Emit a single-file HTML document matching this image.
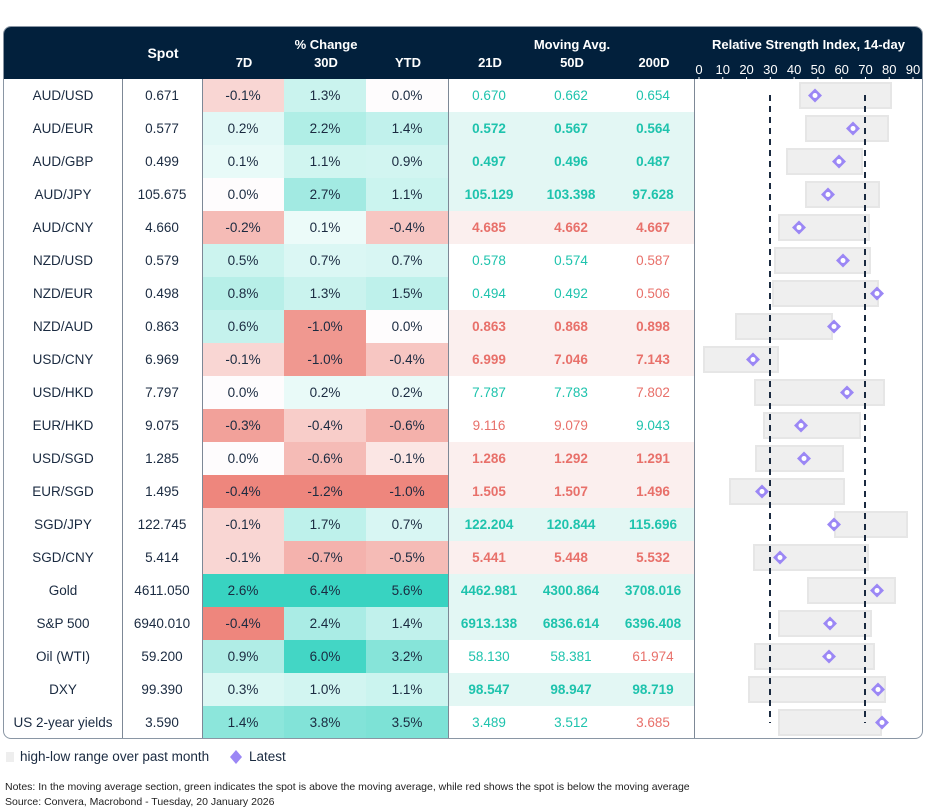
<!DOCTYPE html>
<html><head><meta charset="utf-8"><style>
body{margin:0;width:926px;height:811px;background:#fff;font-family:"Liberation Sans",sans-serif;position:relative;overflow:hidden;color:#1a2a40}
#panel{position:absolute;left:3px;top:26px;width:918px;height:711px;border:1px solid #8a96a4;border-radius:8px;overflow:hidden}
#hdr{position:absolute;left:0;top:0;width:918px;height:52px;background:#02203c}
.h{position:absolute;color:#fff;font-weight:bold;font-size:13px;text-align:center}
.c{position:absolute;height:33px;line-height:33px;text-align:center;font-size:13.5px}
.vl{position:absolute;top:52px;height:660px;width:1px;background:#7d8896}
.t{position:absolute;font-size:13px;color:#fff;text-align:center;width:20px}
</style></head><body>
<div id="panel">
<div id="hdr"></div>
<div class="h" style="left:119px;width:80px;top:18px;font-size:14px">Spot</div>
<div class="h" style="left:199px;width:246px;top:10px">% Change</div>
<div class="h" style="left:199px;width:82px;top:28px">7D</div>
<div class="h" style="left:281px;width:82px;top:28px">30D</div>
<div class="h" style="left:363px;width:82px;top:28px">YTD</div>
<div class="h" style="left:445px;width:246px;top:10px">Moving Avg.</div>
<div class="h" style="left:445px;width:82px;top:28px">21D</div>
<div class="h" style="left:527px;width:82px;top:28px">50D</div>
<div class="h" style="left:609px;width:82px;top:28px">200D</div>
<div class="h" style="left:691px;width:227px;top:10px">Relative Strength Index, 14-day</div>
<div id="rows"></div>
<div class="vl" style="left:118px"></div>
<div class="vl" style="left:198px"></div>
<div class="vl" style="left:444px"></div>
<div class="vl" style="left:690px"></div>
<svg id="rsi" style="position:absolute;left:0;top:0" width="918" height="711"></svg>
</div>
<div style="position:absolute;left:6px;top:752px;width:8px;height:10px;background:#eee"></div>
<div style="position:absolute;left:20px;top:749px;font-size:13.5px">high-low range over past month</div>
<svg style="position:absolute;left:229px;top:749px" width="14" height="16"><polygon points="7,1 13,8 7,15 1,8" fill="#9b87f5"/></svg>
<div style="position:absolute;left:249px;top:749px;font-size:13.5px">Latest</div>
<div style="position:absolute;left:5px;top:781px;font-size:10.5px;color:#222">Notes: In the moving average section, green indicates the spot is above the moving average, while red shows the spot is below the moving average</div>
<div style="position:absolute;left:5px;top:796px;font-size:10.5px;color:#222">Source: Convera, Macrobond - Tuesday, 20 January 2026</div>
<script>
var D=[
["AUD/USD","0.671",-0.1,1.3,0.0,"0.670","0.662","0.654",0,800,891,815],
["AUD/EUR","0.577",0.2,2.2,1.4,"0.572","0.567","0.564",1,806,888,853],
["AUD/GBP","0.499",0.1,1.1,0.9,"0.497","0.496","0.487",1,787,862,839],
["AUD/JPY","105.675",0.0,2.7,1.1,"105.129","103.398","97.628",1,806,879,828],
["AUD/CNY","4.660",-0.2,0.1,-0.4,"4.685","4.662","4.667",1,779,869,799],
["NZD/USD","0.579",0.5,0.7,0.7,"0.578","0.574","0.587",0,775,870,843],
["NZD/EUR","0.498",0.8,1.3,1.5,"0.494","0.492","0.506",0,773,878,877],
["NZD/AUD","0.863",0.6,-1.0,0.0,"0.863","0.868","0.898",1,736,832,834],
["USD/CNY","6.969",-0.1,-1.0,-0.4,"6.999","7.046","7.143",1,704,778,753],
["USD/HKD","7.797",0.0,0.2,0.2,"7.787","7.783","7.802",0,755,884,847],
["EUR/HKD","9.075",-0.3,-0.4,-0.6,"9.116","9.079","9.043",0,764,860,801],
["USD/SGD","1.285",0.0,-0.6,-0.1,"1.286","1.292","1.291",1,756,843,804],
["EUR/SGD","1.495",-0.4,-1.2,-1.0,"1.505","1.507","1.496",1,730,844,762],
["SGD/JPY","122.745",-0.1,1.7,0.7,"122.204","120.844","115.696",1,835,907,834],
["SGD/CNY","5.414",-0.1,-0.7,-0.5,"5.441","5.448","5.532",1,754,868,780],
["Gold","4611.050",2.6,6.4,5.6,"4462.981","4300.864","3708.016",1,808,895,877],
["S&P 500","6940.010",-0.4,2.4,1.4,"6913.138","6836.614","6396.408",1,779,871,830],
["Oil (WTI)","59.200",0.9,6.0,3.2,"58.130","58.381","61.974",0,755,874,829],
["DXY","99.390",0.3,1.0,1.1,"98.547","98.947","98.719",1,749,885,878],
["US 2-year yields","3.590",1.4,3.8,3.5,"3.489","3.512","3.685",0,779,881,882]];
var mx=[2.6,6.4,5.6],mn=[-0.4,-1.2,-1.0];
function mix(a,t){return "rgb("+a.map(function(c){return Math.round(255+(c-255)*t)}).join(",")+")";}
var h="",ox=-4,oy=-26;
D.forEach(function(r,i){
 var y=52+i*33,sp=parseFloat(r[1]);
 h+='<div class="c" style="left:0;width:118px;top:'+y+'px">'+r[0]+'</div>';
 h+='<div class="c" style="left:118px;width:80px;top:'+y+'px">'+r[1]+'</div>';
 for(var k=0;k<3;k++){var v=r[2+k],bg;
  if(v>0)bg=mix([56,211,193],0.08+0.92*v/mx[k]);else if(v<0)bg=mix([238,134,125],0.12+0.88*v/mn[k]);else bg=mix([240,220,225],0.08);
  h+='<div class="c" style="left:'+(198+k*82)+'px;width:82px;top:'+y+'px;background:'+bg+'">'+v.toFixed(1)+'%</div>';}
 var allg=true,allr=true;
 for(k=0;k<3;k++){if(sp>parseFloat(r[5+k]))allr=false;else allg=false;}
 var bold=r[8];
 if(bold)h+='<div class="c" style="left:444px;width:246px;top:'+y+'px;background:'+(allg?'#e3f7f4':'#fbefee')+'"></div>';
 for(k=0;k<3;k++){var g=sp>parseFloat(r[5+k]);
  h+='<div class="c" style="left:'+(444+k*82)+'px;width:82px;top:'+y+'px;color:'+(g?'#1ec3ad':'#e8706a')+';font-weight:'+(bold?'bold':'normal')+'">'+r[5+k]+'</div>';}
});
document.getElementById('rows').innerHTML=h;
var s="";
for(var t=0;t<=90;t+=10){var x=699+t*2.378+ox;s+='<text x="'+x+'" y="47" fill="#fff" font-size="13" text-anchor="middle" font-family="Liberation Sans">'+t+'</text><line x1="'+x+'" x2="'+x+'" y1="50" y2="53" stroke="#fff"/>';}
D.forEach(function(r,i){var y=52+i*33;
 s+='<rect x="'+(r[9]+ox)+'" y="'+(y+4)+'" width="'+(r[10]-r[9])+'" height="25" fill="#efefef" stroke="#e6e6e6" stroke-width="2"/>';});
s+='<line x1="'+(770+ox)+'" x2="'+(770+ox)+'" y1="68" y2="696" stroke="#1a2a40" stroke-width="2" stroke-dasharray="6,5"/>';
s+='<line x1="'+(865+ox)+'" x2="'+(865+ox)+'" y1="68" y2="696" stroke="#1a2a40" stroke-width="2" stroke-dasharray="6,5"/>';
D.forEach(function(r,i){var y=52+i*33+16.5,x=r[11]+ox;
 s+='<polygon points="'+x+','+(y-7)+' '+(x+7)+','+y+' '+x+','+(y+7)+' '+(x-7)+','+y+'" fill="#9b87f5"/><circle cx="'+x+'" cy="'+y+'" r="2.5" fill="#fff"/>';});
document.getElementById('rsi').innerHTML=s;
</script>
</body></html>
